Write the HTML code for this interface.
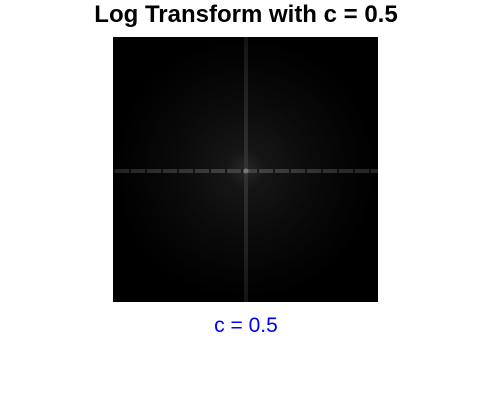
<!DOCTYPE html>
<html><head><style>
body{margin:0;background:#fff;width:492px;height:402px;overflow:hidden;position:relative;font-family:"Liberation Sans",Arial,sans-serif}
#title{position:absolute;left:0;width:492px;top:1px;text-align:center;font-weight:bold;font-size:24px;color:#000}
#img{position:absolute;left:113px;top:37px;width:265px;height:265px;background:#000}
#xl{position:absolute;left:0;width:492px;top:314px;text-align:center;font-size:21px;color:#0000ff}
</style></head><body>
<div id="title">Log Transform with c = 0.5</div>
<svg id="img" width="265" height="265" viewBox="0 0 265 265">
<defs>
<radialGradient id="g" cx="50%" cy="50%" r="50%">
<stop offset="0" stop-color="#262626"/>
<stop offset="0.15" stop-color="#151515"/>
<stop offset="0.6" stop-color="#080808"/>
<stop offset="1" stop-color="#000"/>
</radialGradient>
<linearGradient id="h" x1="0" x2="1"><stop offset="0" stop-color="#222"/><stop offset="0.5" stop-color="#444"/><stop offset="1" stop-color="#222"/></linearGradient>
<linearGradient id="v" x1="0" x2="0" y1="0" y2="1"><stop offset="0" stop-color="#141414"/><stop offset="0.5" stop-color="#333"/><stop offset="1" stop-color="#141414"/></linearGradient>
</defs>
<rect width="265" height="265" fill="#000"/>
<rect width="265" height="265" fill="url(#g)"/>
<rect x="0" y="132" width="265" height="4" fill="url(#h)" stroke="none" style="mask:none"/>
<line x1="0" y1="134" x2="265" y2="134" stroke="#000" stroke-width="4" stroke-dasharray="2 14" opacity="0.6"/>
<rect x="131" y="0" width="4" height="265" fill="url(#v)"/>
<circle cx="133" cy="134" r="2.5" fill="#777"/>
</svg>
<div id="xl">c = 0.5</div>
</body></html>
